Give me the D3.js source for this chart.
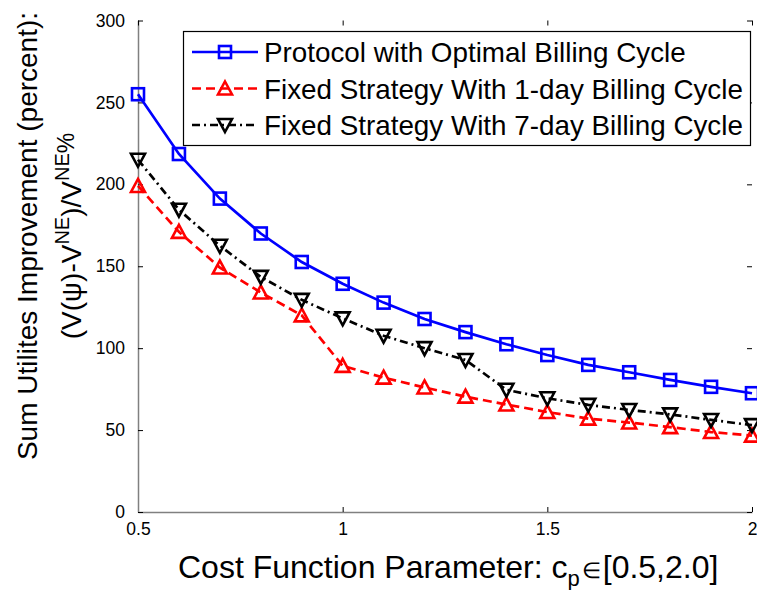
<!DOCTYPE html>
<html>
<head>
<meta charset="utf-8">
<script src="https://cdn.jsdelivr.net/npm/d3@7"></script>
<style>
  body { margin: 0; background: #fff; }
  svg { font-family: "Liberation Sans", Arial, sans-serif; }
</style>
</head>
<body>
<svg width="757" height="590"></svg>
<script>
// cost function parameter c_p
var cp = [0.5, 0.6, 0.7, 0.8, 0.9, 1.0, 1.1, 1.2, 1.3, 1.4, 1.5, 1.6, 1.7, 1.8, 1.9, 2.0];

var optimalCycle = [255, 218.5, 191.3, 170, 152.6, 139.3, 127.8, 117.8, 109.8, 102.4, 95.8, 89.8, 85.3, 80.6, 76.4, 72.5];
var fixed1day = [199, 171, 149.2, 134, 120, 89.2, 82, 76, 70.4, 65.6, 61, 57, 54.6, 51.8, 48.8, 46.6];
var fixed7day = [215, 184.5, 162.5, 143.5, 129.5, 118.2, 107.6, 100, 92.8, 74.6, 69.4, 65.4, 62.3, 59.6, 56.2, 53];

var xTicks = [0.5, 1, 1.5, 2];
var xTickLabels = ["0.5", "1", "1.5", "2"];
var yTicks = [0, 50, 100, 150, 200, 250, 300];

var seriesNames = [
  "Protocol with Optimal Billing Cycle",
  "Fixed Strategy With 1-day Billing Cycle",
  "Fixed Strategy With 7-day Billing Cycle"
];

var series = [
  { name: seriesNames[0], values: optimalCycle, color: "#0000ff", dash: null, marker: "square" },
  { name: seriesNames[1], values: fixed1day, color: "#ff0000", dash: "9,5", marker: "up" },
  { name: seriesNames[2], values: fixed7day, color: "#000000", dash: "8,4,2,4", marker: "down" }
];

var svg = d3.select("svg");
// plot box (window.top is taken, so named edges)
var plotL = 138, plotR = 752, plotT = 20.5, plotB = 512;

var xScale = d3.scaleLinear().domain([0.5, 2]).range([plotL, plotR]);
var yScale = d3.scaleLinear().domain([0, 300]).range([plotB, plotT]);

// markers
function drawMarker(sel, type, color) {
  if (type == "square") {
    sel.append("rect")
      .attr("x", -6).attr("y", -6)
      .attr("width", 12).attr("height", 12)
      .attr("fill", "none")
      .attr("stroke", color)
      .attr("stroke-width", 2.6);
  } else {
    var s = type == "up" ? 1 : -1;
    sel.append("path")
      .attr("d", "M0," + (-7 * s) + "L7," + (6 * s) + "L-7," + (6 * s) + "Z")
      .attr("fill", "none")
      .attr("stroke", color)
      .attr("stroke-width", 2.6)
      .attr("stroke-linejoin", "miter");
  }
}

// axes (inward ticks, like the matlab box)
var gx = svg.append("g")
  .attr("transform", "translate(0," + plotB + ")")
  .call(d3.axisBottom(xScale).tickValues(xTicks)
    .tickFormat(function(d, i) { return xTickLabels[i]; })
    .tickSizeInner(-5).tickSizeOuter(0).tickPadding(11));
gx.select(".domain").attr("stroke", "#808080").attr("stroke-width", 1.5);

var gy = svg.append("g")
  .attr("transform", "translate(" + plotL + ",0)")
  .call(d3.axisLeft(yScale).tickValues(yTicks)
    .tickSizeInner(-5).tickSizeOuter(0).tickPadding(13));
gy.select(".domain").attr("stroke", "#808080").attr("stroke-width", 1.5);

svg.append("g")
  .attr("transform", "translate(0," + plotT + ")")
  .call(d3.axisTop(xScale).tickValues(xTicks).tickFormat("")
    .tickSizeInner(-5).tickSizeOuter(0))
  .select(".domain").remove();

svg.append("g")
  .attr("transform", "translate(" + plotR + ",0)")
  .call(d3.axisRight(yScale).tickValues(yTicks).tickFormat("")
    .tickSizeInner(-5).tickSizeOuter(0))
  .select(".domain").remove();

svg.selectAll(".tick text")
  .attr("fill", "#000")
  .attr("font-size", 17.5)
  .attr("font-family", "'Liberation Sans', Arial, sans-serif");
svg.selectAll(".tick line").attr("stroke", "#000");

// lines + markers
series.forEach(function(s) {
  var line = d3.line()
    .x(function(d, i) { return xScale(cp[i]); })
    .y(function(d) { return yScale(d); });
  svg.append("path")
    .datum(s.values)
    .attr("d", line)
    .attr("fill", "none")
    .attr("stroke", s.color)
    .attr("stroke-width", 2.7)
    .attr("stroke-dasharray", s.dash);
  svg.selectAll(null)
    .data(s.values)
    .enter()
    .append("g")
    .attr("transform", function(d, i) { return "translate(" + xScale(cp[i]) + "," + yScale(d) + ")"; })
    .each(function() { drawMarker(d3.select(this), s.marker, s.color); });
});

// legend
var lg = svg.append("g");
lg.append("rect")
  .attr("x", 183.5).attr("y", 31.5)
  .attr("width", 567).attr("height", 114)
  .attr("fill", "#fff")
  .attr("stroke", "#000")
  .attr("stroke-width", 1.2);

series.forEach(function(s, i) {
  var y = 52 + i * 36.5;
  var item = lg.append("g").attr("class", "legendItem");
  item.append("line")
    .attr("x1", 192).attr("x2", 258)
    .attr("y1", y).attr("y2", y)
    .attr("stroke", s.color)
    .attr("stroke-width", 2.7)
    .attr("stroke-dasharray", s.dash);
  var m = item.append("g").attr("transform", "translate(225," + y + ")");
  drawMarker(m, s.marker, s.color);
  item.append("text")
    .attr("x", 264)
    .attr("y", y)
    .attr("dy", "0.36em")
    .style("font-size", "27.8px")
    .text(s.name);
});

// x label
var xl = svg.append("text")
  .attr("x", 178)
  .attr("y", 578)
  .style("font-size", "32px");
xl.append("tspan").text("Cost Function Parameter: c");
xl.append("tspan").attr("dy", 8).style("font-size", "22px").text("p");
xl.append("tspan").attr("dy", -8).attr("dx", 2).style("font-size", "22px").text("\u2208");
xl.append("tspan").attr("dx", 2).text("[0.5,2.0]");

// y label, two lines
svg.append("text")
  .attr("transform", "translate(37,236) rotate(-90)")
  .attr("text-anchor", "middle")
  .style("font-size", "28px")
  .text("Sum Utilites Improvement (percent):");

var yl = svg.append("text")
  .attr("transform", "translate(81,236) rotate(-90)")
  .attr("text-anchor", "middle")
  .style("font-size", "28px");
yl.append("tspan").text("(V(\u03C8)-V");
yl.append("tspan").attr("dy", -12).style("font-size", "20px").text("NE");
yl.append("tspan").attr("dy", 12).text(")/V");
yl.append("tspan").attr("dy", -12).style("font-size", "20px").text("NE");
yl.append("tspan").attr("dy", 5).style("font-size", "23px").text("%");
</script>
</body>
</html>
